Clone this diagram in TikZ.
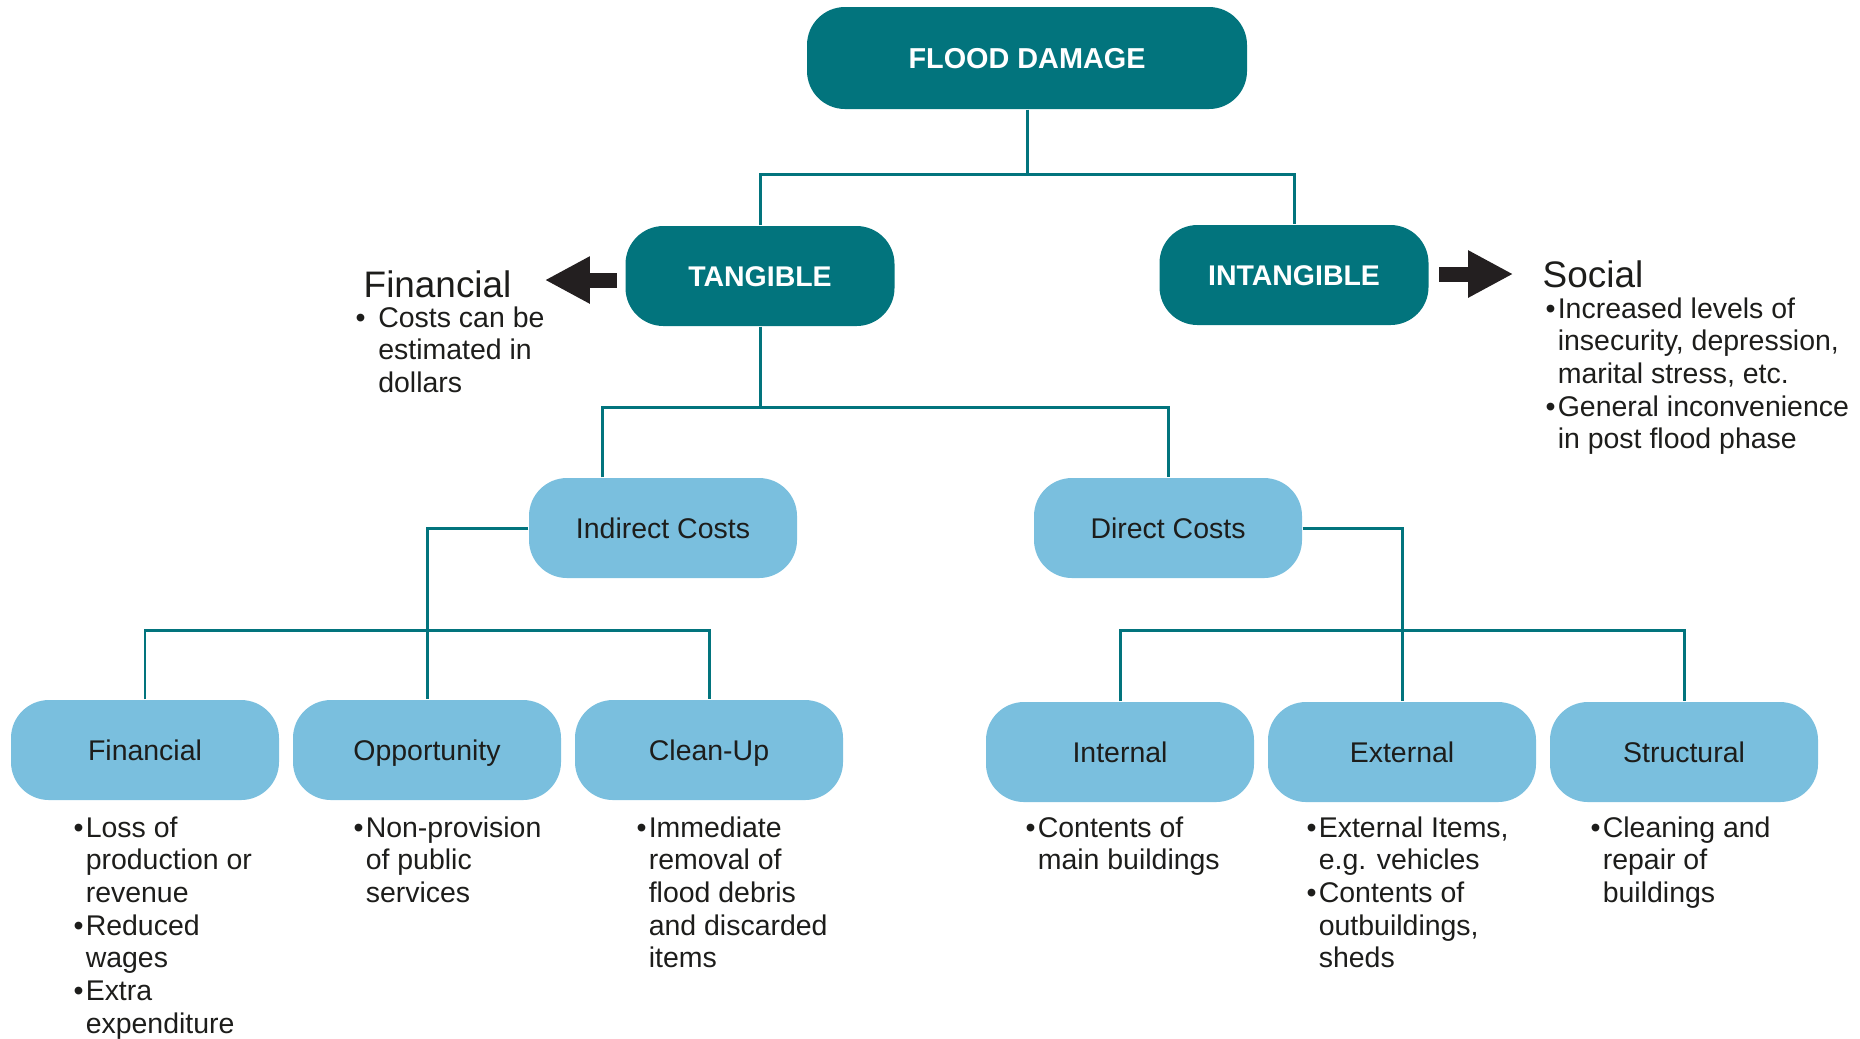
\documentclass[tikz,border=0pt]{standalone}
\usepackage{fontspec}
\setmainfont{Liberation Sans}
\usepackage{xcolor}
\definecolor{teal-800}{RGB}{2,116,125}
\definecolor{sky-300}{RGB}{122,191,222}
\definecolor{gray-900}{RGB}{29,29,27}
\definecolor{ink-950}{RGB}{35,31,32}
\usepackage{tikz}
\usetikzlibrary{arrows.meta,positioning}

\begin{document}
\begin{tikzpicture}[
    every node/.style={inner sep=0pt},
    darkbox/.style={fill=teal-800, rounded corners=0.38cm, minimum width=2.69cm, minimum height=1.0cm,
        text height=5.8pt, text depth=0pt, text=white, font=\bfseries\fontsize{8.1}{9.3}\selectfont},
    lightbox/.style={fill=sky-300, rounded corners=0.38cm, minimum width=2.68cm, minimum height=1.0cm,
        text height=5.8pt, text depth=0pt, text=gray-900, font=\fontsize{8.1}{9.3}\selectfont},
    link/.style={draw=teal-800, line width=0.85pt},
    fatarrow/.style={draw=ink-950, line width=0.15cm, -{Triangle[length=0.45cm,width=0.44cm]}},
    notes/.style={anchor=base west, text=gray-900, font=\fontsize{8.1}{9.3}\selectfont},
    heading/.style={anchor=base west, text=gray-900, font=\fontsize{10.5}{12}\selectfont}
]

\useasboundingbox (0,0) rectangle (18.6,-10.38);

% Top level
\node[darkbox, minimum width=4.40cm, minimum height=1.02cm, font=\bfseries\fontsize{8.2}{9.3}\selectfont] (flood) at (10.27,-0.58) {FLOOD DAMAGE};
\node[darkbox] (tang) at (7.60,-2.76) {TANGIBLE};
\node[darkbox] (intang) at (12.94,-2.75) {INTANGIBLE};

% Second level
\node[lightbox] (indirect) at (6.63,-5.28) {Indirect Costs};
\node[lightbox] (direct) at (11.68,-5.28) {Direct Costs};

% Bottom level
\node[lightbox] (fin) at (1.45,-7.50) {Financial};
\node[lightbox] (opp) at (4.27,-7.50) {Opportunity};
\node[lightbox] (clean) at (7.09,-7.50) {Clean-Up};
\node[lightbox] (internal) at (11.20,-7.52) {Internal};
\node[lightbox] (external) at (14.02,-7.52) {External};
\node[lightbox] (structural) at (16.84,-7.52) {Structural};

% Connectors
\coordinate (split1) at (10.27,-1.74);
\coordinate (split2) at (7.60,-4.07);
\coordinate (split3) at (4.26,-6.30);
\coordinate (split4) at (14.02,-6.30);
\draw[link] (flood.south) -- (split1);
\draw[link] (tang.north) -- (tang.north |- split1) -| (intang.north);
\draw[link] (tang.south) -- (split2);
\draw[link] ([xshift=-0.61cm]indirect.north) |- (split2) -| (direct.north);
\draw[link] (indirect.west) -| (opp.north);
\draw[link] (fin.north) |- (split3) -| (clean.north);
\draw[link] (direct.east) -| (external.north);
\draw[link] (internal.north) |- (split4) -| (structural.north);

% Side arrows
\draw[fatarrow] ([xshift=-0.08cm, yshift=-0.04cm]tang.west) -- ++(-0.72,0);
\draw[fatarrow] ([xshift=0.10cm, yshift=0.01cm]intang.east) -- ++(0.74,0);

% Financial / Social notes
\node[heading] (finhead) at (3.63,-2.97) {Financial};
\node[notes] (finnote) at (3.55,-3.27) {\begin{tabular}[t]{@{}l@{\hspace{3.6pt}}l@{}}
\textbullet & Costs can be\\ & estimated in\\ & dollars
\end{tabular}};

\node[heading] (sochead) at (15.42,-2.87) {Social};
\node[notes] (socnote) at (15.45,-3.18) {\begin{tabular}[t]{@{}l@{\hspace{0.6pt}}l@{}}
\textbullet & Increased levels of\\ & insecurity, depression,\\ & marital stress, etc.\\
\textbullet & General inconvenience\\ & in post flood phase
\end{tabular}};

% Cost lists
\node[notes] (finlist) at (0.73,-8.37) {\begin{tabular}[t]{@{}l@{\hspace{0.6pt}}l@{}}
\textbullet & Loss of\\ & production or\\ & revenue\\
\textbullet & Reduced\\ & wages\\
\textbullet & Extra\\ & expenditure
\end{tabular}};
\node[notes] (opplist) at (3.53,-8.37) {\begin{tabular}[t]{@{}l@{\hspace{0.6pt}}l@{}}
\textbullet & Non-provision\\ & of public\\ & services
\end{tabular}};
\node[notes] (cleanlist) at (6.36,-8.37) {\begin{tabular}[t]{@{}l@{\hspace{0.6pt}}l@{}}
\textbullet & Immediate\\ & removal of\\ & flood debris\\ & and discarded\\ & items
\end{tabular}};
\node[notes] (intlist) at (10.25,-8.37) {\begin{tabular}[t]{@{}l@{\hspace{0.6pt}}l@{}}
\textbullet & Contents of\\ & main buildings
\end{tabular}};
\node[notes] (extlist) at (13.06,-8.37) {\begin{tabular}[t]{@{}l@{\hspace{0.6pt}}l@{}}
\textbullet & External Items,\\ & e.g. vehicles\\
\textbullet & Contents of\\ & outbuildings,\\ & sheds
\end{tabular}};
\node[notes] (strlist) at (15.90,-8.37) {\begin{tabular}[t]{@{}l@{\hspace{0.6pt}}l@{}}
\textbullet & Cleaning and\\ & repair of\\ & buildings
\end{tabular}};

\end{tikzpicture}
\end{document}
